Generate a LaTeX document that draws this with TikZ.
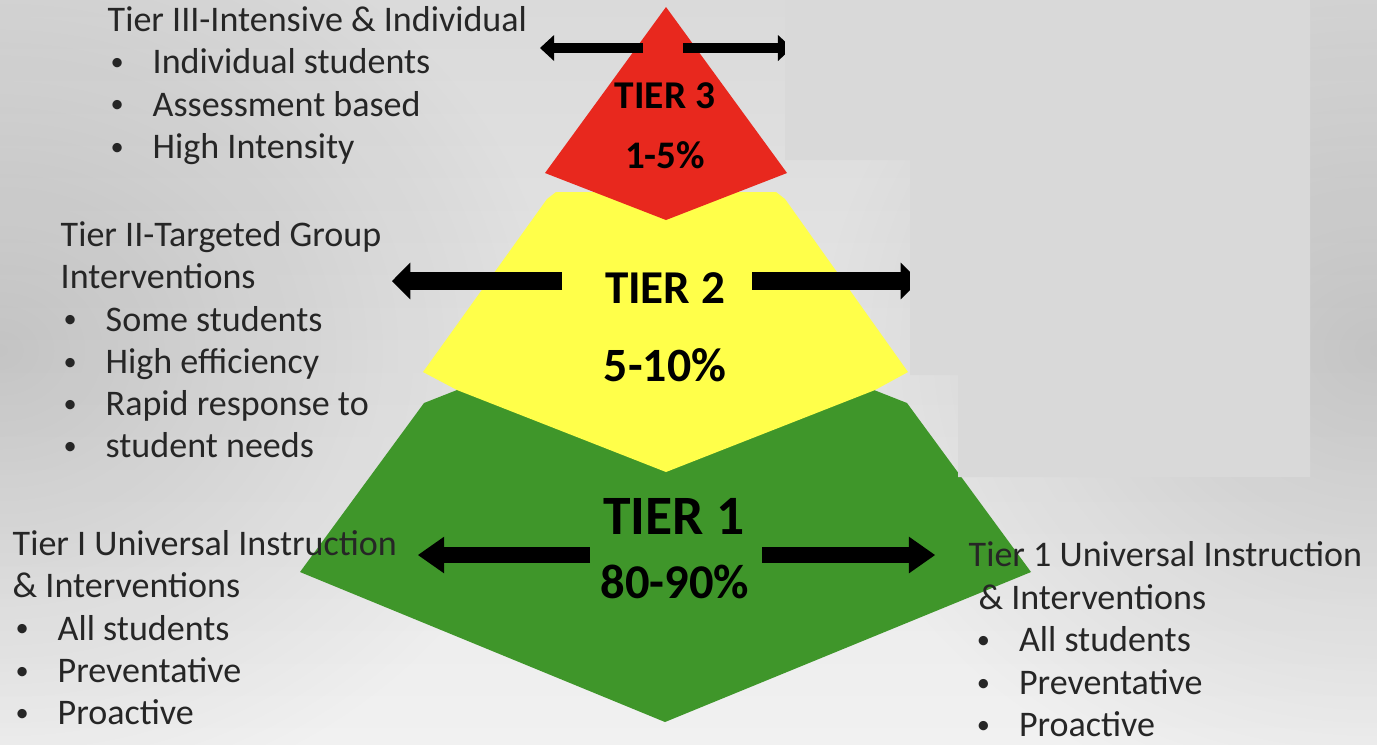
\documentclass[tikz,border=0pt]{standalone}
\usepackage{fontspec}
\setmainfont{Carlito}
\usetikzlibrary{arrows.meta, fadings}
\definecolor{tierRed}{HTML}{E8281E}
\definecolor{tierYellow}{HTML}{FFFF4A}
\definecolor{tierGreen}{HTML}{3F962A}
\definecolor{bgTop}{HTML}{DADADA}
\definecolor{bgMid}{HTML}{D9D9D9}
\definecolor{bgBot}{HTML}{F1F1F1}
\definecolor{patchGray}{HTML}{D9D9D9}
\definecolor{textDark}{HTML}{262626}
\tikzfading[name=edgeGlow, inner color=transparent!0, outer color=transparent!100]
% bullet line of a side list
\newcommand{\tieritem}[1]{\makebox[12.8pt][l]{\hspace*{0.8pt}\raisebox{0.9pt}{\fontsize{7.5}{7.5}\selectfont\textbullet}}#1}
\tikzset{
  arrowTop/.style={-{Triangle[length=4pt, width=7.4pt, line width=0pt]}, line width=2.8pt},
  arrowMid/.style={-{Triangle[length=5.2pt, width=10.5pt, line width=0pt]}, line width=5pt},
  arrowLow/.style={-{Triangle[length=7.4pt, width=10.4pt, line width=0pt]}, line width=4.5pt},
  tierLabel/.style={font=\bfseries, text=black, inner sep=0pt},
  sideText/.style={align=left, anchor=north west, inner sep=0pt, text=textDark,
                   font=\fontsize{10.25}{12}\selectfont},
}

\begin{document}
\begin{tikzpicture}[x=0.01cm, y=-0.01cm]
  \useasboundingbox (0,0) rectangle (1377,744);
  % background
  \begin{scope}
    \clip (0,0) rectangle (1377,744);
    \shade[top color=bgTop, middle color=bgMid, bottom color=bgBot] (0,0) rectangle (1377,744);
    \fill[black, opacity=0.14, path fading=edgeGlow] (-560,-120) rectangle (560,820);
    \fill[black, opacity=0.14, path fading=edgeGlow] (817,-120) rectangle (1937,820);
  \end{scope}

  % pyramid
  \fill[tierGreen] (457,390) -- (424,403) -- (300,572) -- (665,722) -- (1031,572)
    -- (907,403) -- (874,390) -- cycle;
  \fill[tierYellow] (547,199) -- (556,192) -- (776,192) -- (785,199) -- (908,372)
    -- (875,390) -- (666,472) -- (457,390) -- (423,372) -- cycle;
  \fill[tierRed] (666,7) -- (787,173) -- (666,220) -- (545,173) -- cycle;

  % arrows
  \coordinate (t3a) at (643,48);  \coordinate (t3aEnd) at (540,48);
  \coordinate (t3b) at (683,48);  \coordinate (t3bEnd) at (792,48);
  \coordinate (t2a) at (562,281); \coordinate (t2aEnd) at (392,281);
  \coordinate (t2b) at (752,281); \coordinate (t2bEnd) at (919,281);
  \coordinate (t1a) at (590,555); \coordinate (t1aEnd) at (418,555);
  \coordinate (t1b) at (762,555); \coordinate (t1bEnd) at (935,555);
  \draw[arrowTop] (t3a) -- (t3aEnd);
  \draw[arrowTop] (t3b) -- (t3bEnd);
  \draw[arrowMid] (t2a) -- (t2aEnd);
  \draw[arrowMid] (t2b) -- (t2bEnd);
  \draw[arrowLow] (t1a) -- (t1aEnd);
  \draw[arrowLow] (t1b) -- (t1bEnd);

  % pasted grey patch on the right
  \fill[patchGray] (785,0) -- (1310,0) -- (1310,477) -- (958,477) -- (958,375)
    -- (910,375) -- (910,160) -- (785,160) -- cycle;

  % tier labels
  \node[tierLabel, font=\bfseries\fontsize{11.2}{13}\selectfont] (tier3) at (665,96) {TIER 3};
  \node[tierLabel, font=\bfseries\fontsize{11.1}{13}\selectfont] (pct3) at (665,155) {1-5\%};
  \node[tierLabel, font=\bfseries\fontsize{13.4}{16}\selectfont] (tier2) at (665,288) {TIER 2};
  \node[tierLabel, font=\bfseries\fontsize{13.6}{16}\selectfont] (pct2) at (665,365) {5-10\%};
  \node[tierLabel, font=\bfseries\fontsize{15.8}{19}\selectfont] (tier1) at (674,516) {TIER 1};
  \node[tierLabel, font=\bfseries\fontsize{13.8}{17}\selectfont] (pct1) at (675,582) {80-90\%};

  % side lists
  \node[sideText] (list3) at (107,6) {Tier III-Intensive \& Individual\\
    \tieritem{Individual students}\\ \tieritem{Assessment based}\\ \tieritem{High Intensity}};
  \node[sideText] (list2) at (60,221) {Tier II-Targeted Group\\
    Interventions\\ \tieritem{Some students}\\ \tieritem{High efficiency}\\
    \tieritem{Rapid response to}\\ \tieritem{student needs}};
  \node[sideText] (list1L) at (12,530) {Tier I Universal Instruction\\
    \& Interventions\\ \tieritem{All students}\\ \tieritem{Preventative}\\ \tieritem{Proactive}};
  \node[sideText, font=\fontsize{10.25}{12.1}\selectfont] (list1R) at (968,541) {Tier 1 Universal Instruction\\
    \hspace*{2.8pt}\& Interventions\\ \hspace*{1.5pt}\tieritem{All students}\\
    \hspace*{1.5pt}\tieritem{Preventative}\\ \hspace*{1.5pt}\tieritem{Proactive}};
\end{tikzpicture}
\end{document}
